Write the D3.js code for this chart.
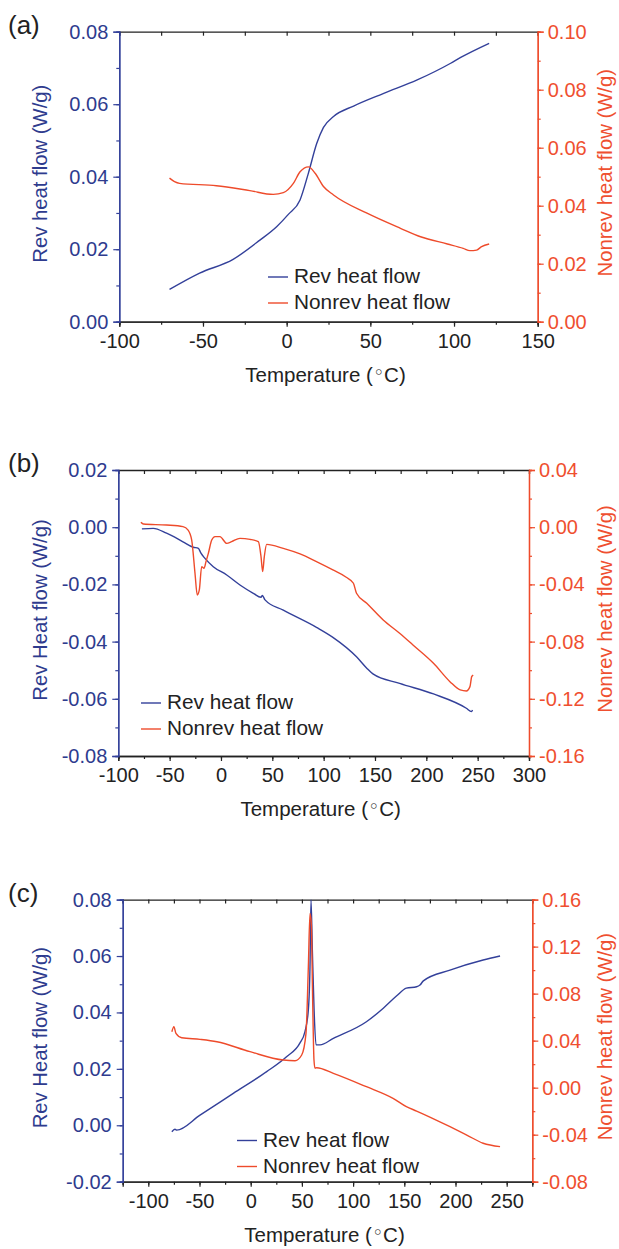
<!DOCTYPE html>
<html>
<head>
<meta charset="utf-8">
<script src="https://cdn.jsdelivr.net/npm/d3@7"></script>
<style>
  body { margin: 0; background: #fff; }
  svg { display: block; font-family: "Liberation Sans", Arial, sans-serif; }
</style>
</head>
<body>
<svg id="chart" width="619" height="1249"></svg>
<script>
// ---- panel (a) ----
var tRevA = [-70, -52, -32, -16, -6, 1, 8, 13, 18, 22, 28, 40, 58, 78, 98, 104, 121];
var revA = [0.0089, 0.0134, 0.0172, 0.0225, 0.0262, 0.0296, 0.0336, 0.041, 0.0492, 0.0536, 0.0566, 0.0595, 0.063, 0.0667, 0.0713, 0.0729, 0.0768];
var tNonA = [-70, -67, -64, -42, -22, -8, -2, 4, 8, 13, 17, 22, 28, 48, 68, 80, 96, 105.5, 109.5, 113.5, 116.5, 121];
var nonA = [0.0495, 0.0483, 0.0477, 0.0469, 0.0452, 0.0439, 0.0445, 0.0477, 0.0517, 0.0534, 0.0512, 0.0466, 0.0437, 0.0374, 0.0322, 0.0293, 0.0268, 0.0253, 0.0245, 0.0247, 0.0259, 0.0268];

// ---- panel (b) ----
var tRevB = [-77, -66, -53, -37, -27, -22, -19.5, -15.6, -7.5, 5.6, 18.5, 31.5, 39, 40.3, 42.9, 60.7, 93, 109, 132, 142, 148, 174, 207, 239, 244, 245];
var revB = [-0.0006, -0.0004, -0.0021, -0.0051, -0.007, -0.0074, -0.0091, -0.0109, -0.0138, -0.0167, -0.0202, -0.0231, -0.0245, -0.0239, -0.0254, -0.029, -0.035, -0.0385, -0.0453, -0.0493, -0.0513, -0.0546, -0.0583, -0.0633, -0.0645, -0.0639];
var tNonB = [-78, -75.6, -53, -37, -32, -28.5, -25.3, -23.1, -21.1, -18.8, -16.5, -14.6, -12.3, -9, -5.8, -1, 5.6, 10.4, 18.5, 28.3, 36.4, 39, 40.6, 42.2, 44.5, 60.7, 77, 93, 109, 122, 129, 132, 142, 158, 174, 187, 207, 223, 233, 239, 242.5, 244.2, 245.7];
var nonB = [0.0034, 0.0022, 0.0015, 0.0004, -0.002, -0.009, -0.0322, -0.0474, -0.0439, -0.0276, -0.0287, -0.0241, -0.0183, -0.009, -0.0066, -0.0066, -0.0113, -0.0101, -0.0078, -0.0085, -0.0101, -0.0206, -0.0311, -0.0206, -0.012, -0.0148, -0.0187, -0.0241, -0.0299, -0.035, -0.0392, -0.0462, -0.0532, -0.0649, -0.0742, -0.0824, -0.0952, -0.108, -0.1138, -0.1145, -0.1115, -0.1045, -0.1034];

// ---- panel (c) ----
var tRevC = [-77, -74, -72.3, -49.5, -17, 15.6, 35, 48, 53, 56.3, 57.9, 58.9, 60.2, 61.9, 63.8, 67.7, 80.7, 113, 129.5, 142.6, 152, 162, 165.3, 168.6, 194.6, 227, 243.5];
var revC = [-0.0023, -0.0014, -0.0017, 0.0036, 0.0113, 0.019, 0.0243, 0.0291, 0.0332, 0.0409, 0.0562, 0.0799, 0.0621, 0.0409, 0.0285, 0.0285, 0.0308, 0.0367, 0.0415, 0.0459, 0.0486, 0.0491, 0.0497, 0.0512, 0.055, 0.0586, 0.06];
var tNonC = [-77, -75, -73, -67.4, -49.5, -33, -0.7, 31.8, 43.3, 49.8, 54, 56.3, 57.9, 59.2, 60.5, 61.8, 62.8, 64.5, 80.7, 113, 139, 152, 162, 194.6, 211, 227, 243.5];
var nonC = [0.0476, 0.0519, 0.0462, 0.0425, 0.0411, 0.0391, 0.0306, 0.0235, 0.0229, 0.0278, 0.0462, 0.1029, 0.1483, 0.1398, 0.0746, 0.0235, 0.0165, 0.017, 0.0122, 0.0008, -0.0091, -0.0162, -0.0199, -0.0332, -0.0403, -0.0473, -0.0502];

// ticks
var xTicksA = [-100, -50, 0, 50, 100, 150];
var xTicksB = [-100, -50, 0, 50, 100, 150, 200, 250, 300];
var xTicksC = [-100, -50, 0, 50, 100, 150, 200, 250];
var yLTicksA = [0, 0.02, 0.04, 0.06, 0.08];
var yRTicksA = [0, 0.02, 0.04, 0.06, 0.08, 0.10];
var yLTicksB = [-0.08, -0.06, -0.04, -0.02, 0, 0.02];
var yRTicksB = [-0.16, -0.12, -0.08, -0.04, 0, 0.04];
var yLTicksC = [-0.02, 0, 0.02, 0.04, 0.06, 0.08];
var yRTicksC = [-0.08, -0.04, 0, 0.04, 0.08, 0.12, 0.16];

var BLUE = "#33409a", RED = "#ee4b2b", BLUE_TXT = "#2e3b8e", RED_TXT = "#ef4f30", DARK = "#222";

var svg = d3.select("#chart");

var panels = [
    { label: "(a)", left: 119.3, right: 537.7, top: 31.7, bottom: 321.7,
      xDom: [-100, 150], yLDom: [0, 0.08], yRDom: [0, 0.10],
      xTicks: xTicksA, yLTicks: yLTicksA, yRTicks: yRTicksA, xMinor: 25, yLMinor: 0.01, yRMinor: 0.01,
      yLTitle: "Rev heat flow (W/g)",
      tRev: tRevA, rev: revA, tNon: tNonA, non: nonA,
      legX: 268, legY: 277 },
    { label: "(b)", left: 118.3, right: 529, top: 470, bottom: 756,
      xDom: [-100, 300], yLDom: [-0.08, 0.02], yRDom: [-0.16, 0.04],
      xTicks: xTicksB, yLTicks: yLTicksB, yRTicks: yRTicksB, xMinor: 25, yLMinor: 0.01, yRMinor: 0.02,
      yLTitle: "Rev Heat flow (W/g)",
      tRev: tRevB, rev: revB, tNon: tNonB, non: nonB,
      legX: 141, legY: 703 },
    { label: "(c)", left: 122.7, right: 532.3, top: 899.6, bottom: 1181.7,
      xDom: [-125, 275], yLDom: [-0.02, 0.08], yRDom: [-0.08, 0.16],
      xTicks: xTicksC, yLTicks: yLTicksC, yRTicks: yRTicksC, xMinor: 25, yLMinor: 0.01, yRMinor: 0.02,
      yLTitle: "Rev Heat flow (W/g)",
      tRev: tRevC, rev: revC, tNon: tNonC, non: nonC,
      legX: 237, legY: 1140.5 }
];

// plain hyphen for negatives, like the original
var fmtX = function (d) { return d3.format("d")(d).replace("\u2212", "-"); };
var fmtY = function (d) { return d3.format(".2f")(d).replace("\u2212", "-"); };

panels.forEach(drawPanel);

function range(a, b, step) {
    var out = [];
    var n = Math.round((b - a) / step);
    for (var i = 0; i <= n; i++) out.push(+(a + i * step).toFixed(6));
    return out;
}

function drawPanel(p) {
    var x = d3.scaleLinear().domain(p.xDom).range([p.left, p.right]);
    var yL = d3.scaleLinear().domain(p.yLDom).range([p.bottom, p.top]);
    var yR = d3.scaleLinear().domain(p.yRDom).range([p.bottom, p.top]);
    var g = svg.append("g");

    // minor ticks first (no labels)
    var xMinorVals = range(Math.ceil(p.xDom[0] / p.xMinor) * p.xMinor, p.xDom[1], p.xMinor);
    var yLMinorVals = range(p.yLDom[0], p.yLDom[1], p.yLMinor);
    var yRMinorVals = range(p.yRDom[0], p.yRDom[1], p.yRMinor);

    // bottom
    g.append("g").attr("transform", "translate(0," + p.bottom + ")")
        .call(d3.axisBottom(x).tickValues(xMinorVals).tickSize(3).tickFormat(""))
        .call(styleAxis, DARK);
    g.append("g").attr("transform", "translate(0," + p.bottom + ")")
        .call(d3.axisBottom(x).tickValues(p.xTicks).tickSize(5).tickPadding(7).tickFormat(fmtX))
        .call(styleAxis, DARK, DARK);
    // top (inward ticks)
    g.append("g").attr("transform", "translate(0," + p.top + ")")
        .call(d3.axisBottom(x).tickValues(xMinorVals).tickSize(4).tickFormat(""))
        .call(styleAxis, DARK);

    // left
    g.append("g").attr("transform", "translate(" + p.left + ",0)")
        .call(d3.axisLeft(yL).tickValues(yLMinorVals).tickSize(3).tickFormat(""))
        .call(styleAxis, BLUE);
    g.append("g").attr("transform", "translate(" + p.left + ",0)")
        .call(d3.axisLeft(yL).tickValues(p.yLTicks).tickSize(6).tickPadding(5).tickFormat(fmtY))
        .call(styleAxis, BLUE, BLUE_TXT);

    // right
    g.append("g").attr("transform", "translate(" + p.right + ",0)")
        .call(d3.axisRight(yR).tickValues(yRMinorVals).tickSize(3).tickFormat(""))
        .call(styleAxis, RED);
    g.append("g").attr("transform", "translate(" + p.right + ",0)")
        .call(d3.axisRight(yR).tickValues(p.yRTicks).tickSize(6).tickPadding(4).tickFormat(fmtY))
        .call(styleAxis, RED, RED_TXT);

    // lines
    var revLine = d3.line()
        .x(function (d, i) { return x(p.tRev[i]); })
        .y(function (d) { return yL(d); })
        .curve(d3.curveMonotoneX);
    var nonLine = d3.line()
        .x(function (d, i) { return x(p.tNon[i]); })
        .y(function (d) { return yR(d); })
        .curve(d3.curveMonotoneX);

    g.append("path").datum(p.rev).attr("d", revLine)
        .attr("fill", "none").attr("stroke", BLUE).attr("stroke-width", 1.4);
    g.append("path").datum(p.non).attr("d", nonLine)
        .attr("fill", "none").attr("stroke", RED).attr("stroke-width", 1.4);

    // legend
    var leg = g.append("g").attr("transform", "translate(" + p.legX + "," + p.legY + ")");
    [["Rev heat flow", BLUE], ["Nonrev heat flow", RED]].forEach(function (item, i) {
        leg.append("line").attr("x1", 0).attr("x2", 20).attr("y1", i * 26).attr("y2", i * 26)
            .attr("stroke", item[1]).attr("stroke-width", 1.4);
        leg.append("text").attr("x", 26).attr("y", i * 26 + 6).attr("font-size", 20.8)
            .attr("fill", DARK).text(item[0]);
    });

    // titles
    var cy = (p.top + p.bottom) / 2;
    var xt = g.append("text").attr("x", (p.left + p.right) / 2 - 3).attr("y", p.bottom + 60)
        .attr("text-anchor", "middle").attr("font-size", 20.5).attr("fill", DARK);
    xt.append("tspan").text("Temperature (");
    xt.append("tspan").attr("font-family", "DejaVu Sans").attr("font-size", 19).attr("dy", -3).text("\u25E6");
    xt.append("tspan").attr("dy", 3).text("C)");
    g.append("text").attr("transform", "translate(47," + (cy - 3) + ") rotate(-90)")
        .attr("text-anchor", "middle").attr("font-size", 20.3).attr("fill", BLUE_TXT)
        .text(p.yLTitle);
    g.append("text").attr("transform", "translate(612," + (cy - 4) + ") rotate(-90)")
        .attr("text-anchor", "middle").attr("font-size", 20.3).attr("fill", RED_TXT)
        .text("Nonrev heat flow (W/g)");
    g.append("text").attr("x", 8).attr("y", p.top + 2)
        .attr("font-size", 26).attr("fill", DARK).text(p.label);
}

function styleAxis(sel, lineColor, textColor) {
    sel.select(".domain").attr("stroke", lineColor).attr("stroke-width", 1.3);
    sel.selectAll(".tick line").attr("stroke", lineColor).attr("stroke-width", 1.2);
    sel.selectAll(".tick text").attr("font-size", 20).attr("font-family", "Liberation Sans, Arial, sans-serif")
        .attr("fill", textColor || lineColor);
}
</script>
</body>
</html>
